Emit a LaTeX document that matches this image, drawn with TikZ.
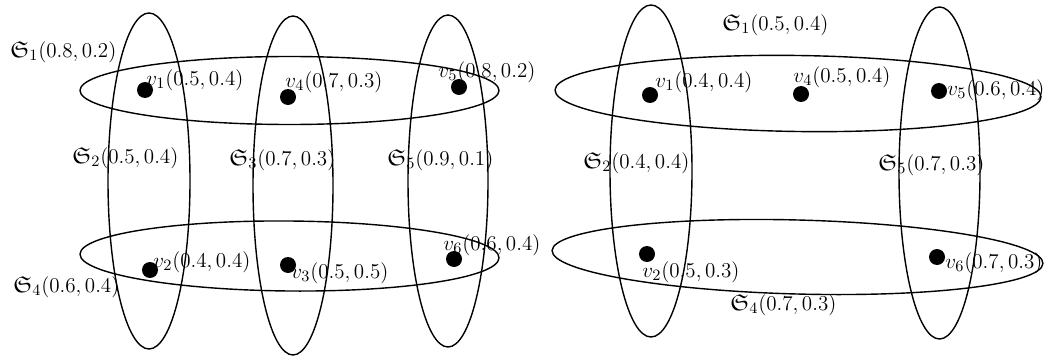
\documentclass[tikz,border=0pt]{standalone}
\usepackage{amssymb}

\begin{document}
\begin{tikzpicture}[
  x=0.02cm, y=-0.02cm,
  font=\fontsize{13}{16}\selectfont,
  hedge/.style={draw=black, line width=0.8pt},
  vtx/.style={circle, fill=black, inner sep=0pt, minimum size=0.32cm},
  lab/.style={anchor=west, inner sep=0pt},
]
\useasboundingbox (0,0) rectangle (1047,358);
% left hypergraph: hyperedges
\draw[hedge] (289.5,90.5) ellipse [x radius=209.5, y radius=34];
\draw[hedge, rotate around={-0.5:(289.5,256)}] (289.5,256) ellipse [x radius=209.5, y radius=35];
\draw[hedge] (149,181) ellipse [x radius=41, y radius=168];
\draw[hedge] (293,185.5) ellipse [x radius=40, y radius=169.5];
\draw[hedge] (448,181) ellipse [x radius=40, y radius=166];
% left hypergraph: vertices
\node[vtx] (lv1) at (145,90) {};
\node[vtx] (lv2) at (150,270) {};
\node[vtx] (lv3) at (288,265) {};
\node[vtx] (lv4) at (288,97) {};
\node[vtx] (lv5) at (459,87) {};
\node[vtx] (lv6) at (454,259) {};
% left hypergraph: labels
\node[lab] (lv1lab) at (146,80) {$v_1(0.5,0.4)$};
\node[lab] (lv2lab) at (153,262) {$v_2(0.4,0.4)$};
\node[lab] (lv3lab) at (291,273) {$v_3(0.5,0.5)$};
\node[lab] (lv4lab) at (285,82) {$v_4(0.7,0.3)$};
\node[lab] (lv5lab) at (438,72) {$v_5(0.8,0.2)$};
\node[lab] (lv6lab) at (443,245) {$v_6(0.6,0.4)$};
\node[lab] (ls1lab) at (10,52) {$\mathfrak{S}_1(0.8,0.2)$};
\node[lab] (ls2lab) at (72,158) {$\mathfrak{S}_2(0.5,0.4)$};
\node[lab] (ls3lab) at (229,160) {$\mathfrak{S}_3(0.7,0.3)$};
\node[lab] (ls4lab) at (13,287) {$\mathfrak{S}_4(0.6,0.4)$};
\node[lab] (ls5lab) at (387,160) {$\mathfrak{S}_5(0.9,0.1)$};
% right hypergraph: hyperedges
\draw[hedge, rotate around={-0.8:(798,93.5)}] (798,93.5) ellipse [x radius=243, y radius=38];
\draw[hedge, rotate around={-1.5:(797.5,257)}] (797.5,257) ellipse [x radius=245.5, y radius=37];
\draw[hedge] (651,171) ellipse [x radius=41, y radius=166];
\draw[hedge] (939.5,173) ellipse [x radius=40.5, y radius=166];
% right hypergraph: vertices
\node[vtx] (rv1) at (650,95) {};
\node[vtx] (rv2) at (647,254) {};
\node[vtx] (rv4) at (801,94) {};
\node[vtx] (rv5) at (939,91) {};
\node[vtx] (rv6) at (937,257) {};
% right hypergraph: labels
\node[lab] (rv1lab) at (655,82) {$v_1(0.4,0.4)$};
\node[lab] (rv2lab) at (642,272) {$v_2(0.5,0.3)$};
\node[lab] (rv4lab) at (793,77) {$v_4(0.5,0.4)$};
\node[lab] (rv5lab) at (947,90) {$v_5(0.6,0.4)$};
\node[lab] (rv6lab) at (945,263) {$v_6(0.7,0.3)$};
\node[lab] (rs1lab) at (722,25) {$\mathfrak{S}_1(0.5,0.4)$};
\node[lab] (rs2lab) at (583,163) {$\mathfrak{S}_2(0.4,0.4)$};
\node[lab] (rs4lab) at (730,305) {$\mathfrak{S}_4(0.7,0.3)$};
\node[lab] (rs5lab) at (878,165) {$\mathfrak{S}_5(0.7,0.3)$};
\end{tikzpicture}
\end{document}
